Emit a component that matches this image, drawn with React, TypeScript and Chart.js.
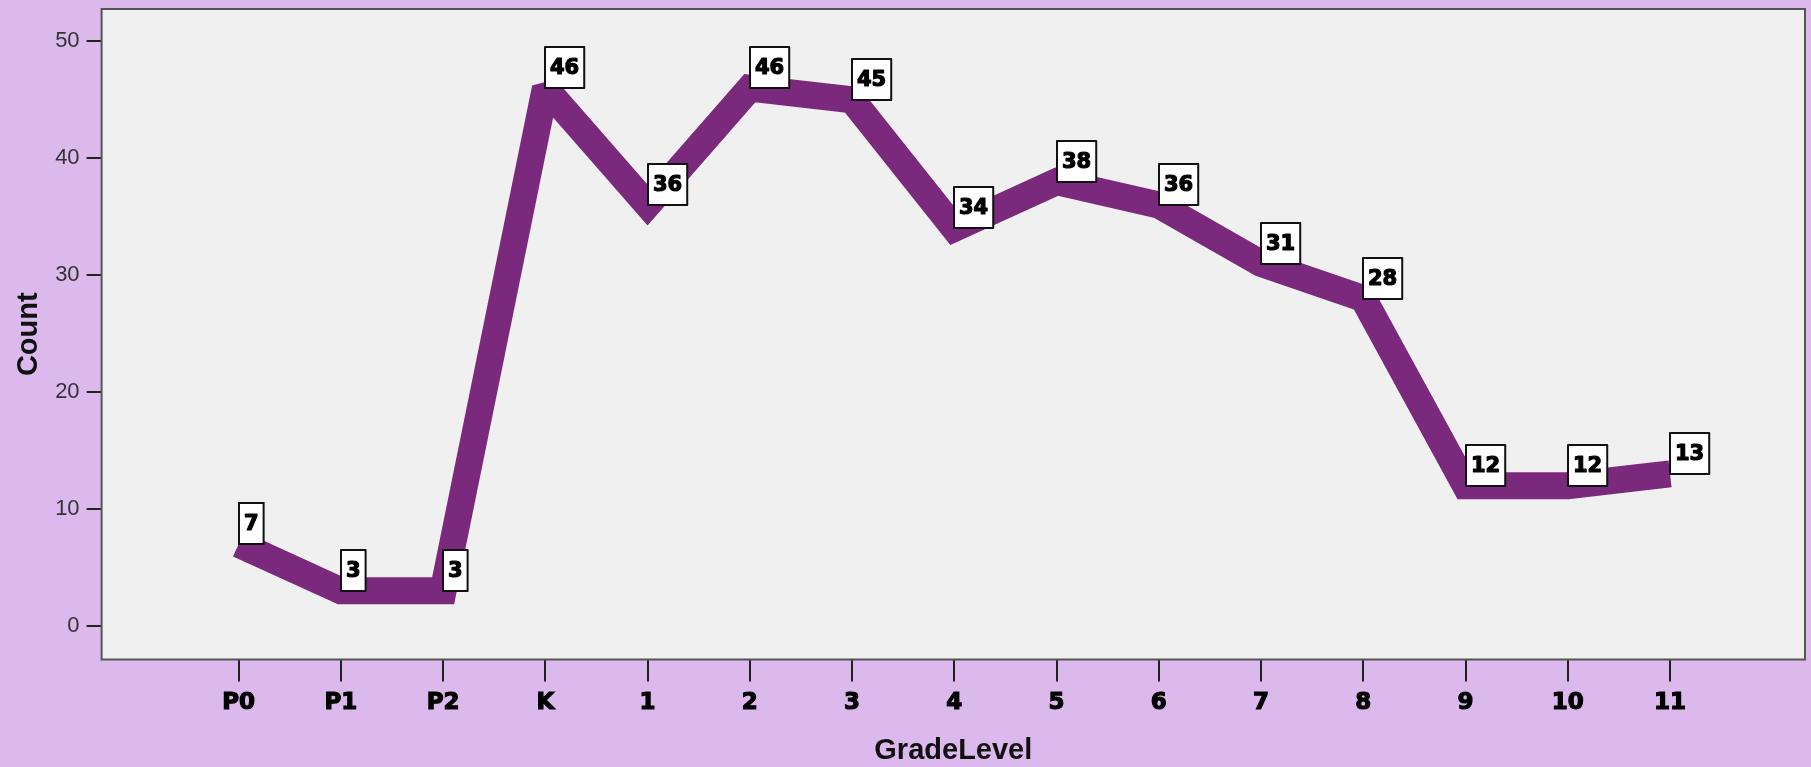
import React, { useEffect, useRef } from 'react';
import { Chart, registerables } from 'chart.js';

Chart.register(...registerables);

const categories: string[] = ['P0', 'P1', 'P2', 'K', '1', '2', '3', '4', '5', '6', '7', '8', '9', '10', '11'];
const counts: number[] = [7, 3, 3, 46, 36, 46, 45, 34, 38, 36, 31, 28, 12, 12, 13];
const yTickValues: number[] = [0, 10, 20, 30, 40, 50];
const xTitle = 'GradeLevel';
const yTitle = 'Count';

const PAGE_BG = '#dcb9ed';
const PLOT_BG = '#f0f0f0';
const LINE_COLOR = '#7b297d';

const backgroundPlugin = {
  id: 'bgFrame',
  beforeDraw(chart: any) {
    const { ctx, chartArea } = chart;
    const { left, top, right, bottom } = chartArea;
    ctx.save();
    ctx.fillStyle = PAGE_BG;
    ctx.fillRect(0, 0, chart.width, chart.height);
    ctx.fillStyle = PLOT_BG;
    ctx.fillRect(left, top, right - left, bottom - top);
    ctx.restore();
  },
  beforeDatasetsDraw(chart: any) {
    const { ctx, chartArea } = chart;
    const { left, top, right, bottom } = chartArea;
    ctx.save();
    ctx.strokeStyle = '#555555';
    ctx.lineWidth = 2;
    ctx.strokeRect(left, top, right - left, bottom - top);
    ctx.restore();
    ctx.miterLimit = 2;
  },
  afterDatasetsDraw(chart: any) {
    const { ctx } = chart;
    ctx.miterLimit = 10;
    const meta = chart.getDatasetMeta(0);
    ctx.save();
    ctx.font = 'bold 21px "DejaVu Sans"';
    ctx.textAlign = 'center';
    ctx.textBaseline = 'middle';
    meta.data.forEach((pt: any, i: number) => {
      const text = String(counts[i]);
      const w = ctx.measureText(text).width + 10;
      const h = 41;
      const x = Math.round(pt.x);
      const y = Math.round(pt.y) - h;
      ctx.fillStyle = '#ffffff';
      ctx.fillRect(x, y, w, h);
      ctx.strokeStyle = '#111111';
      ctx.lineWidth = 2;
      ctx.strokeRect(x, y, w, h);
      ctx.fillStyle = '#000000';
      ctx.strokeStyle = '#000000';
      ctx.lineWidth = 1.2;
      ctx.lineJoin = 'round';
      ctx.strokeText(text, x + w / 2, y + h / 2 + 1);
      ctx.fillText(text, x + w / 2, y + h / 2 + 1);
    });
    ctx.restore();
  },
};

export default function App() {
  const canvasRef = useRef<HTMLCanvasElement | null>(null);

  useEffect(() => {
    document.body.style.margin = '0';
    document.body.style.background = PAGE_BG;
    const canvas = canvasRef.current;
    if (!canvas) return;
    const chart = new Chart(canvas, {
      type: 'line',
      data: {
        datasets: [
          {
            label: yTitle,
            data: categories.map((c, i) => ({ x: i, y: counts[i] })),
            borderColor: LINE_COLOR,
            backgroundColor: LINE_COLOR,
            borderWidth: 27,
            borderCapStyle: 'butt',
            borderJoinStyle: 'miter',
            pointRadius: 0,
            pointHoverRadius: 0,
            tension: 0,
            fill: false,
          },
        ],
      },
      options: {
        responsive: false,
        animation: false,
        devicePixelRatio: 1,
        layout: { padding: { top: 9, right: 6, left: 0, bottom: 0 } },
        plugins: {
          legend: { display: false },
          tooltip: { enabled: false },
        },
        scales: {
          x: {
            type: 'linear',
            position: 'bottom',
            min: -1.34,
            max: 15.32,
            afterFit: (s: any) => {
              s.height = 107.5;
              s.paddingLeft = 0;
              s.paddingRight = 0;
              s.paddingTop = 0;
              s.paddingBottom = 0;
            },
            afterBuildTicks: (s: any) => {
              s.ticks = categories.map((c, i) => ({ value: i }));
            },
            grid: {
              drawOnChartArea: false,
              drawTicks: true,
              tickLength: 22,
              color: '#222222',
              lineWidth: 2,
            },
            border: { display: false },
            ticks: {
              autoSkip: false,
              maxRotation: 0,
              padding: 8,
              color: '#000000',
              textStrokeColor: '#000000',
              textStrokeWidth: 1.2,
              font: { family: '"DejaVu Sans"', size: 23, weight: 'bold', lineHeight: 1.2 },
              callback: (v: any) => categories[Math.round(Number(v))] ?? '',
            },
            title: {
              display: true,
              text: xTitle,
              color: '#111111',
              padding: { top: 0, bottom: 0 },
              font: { family: '"Liberation Sans"', size: 29, weight: 'bold', lineHeight: 1.1 },
            },
          },
          y: {
            type: 'linear',
            position: 'left',
            min: -2.87,
            max: 52.77,
            afterFit: (s: any) => {
              s.width = 101.6;
              s.paddingLeft = 0;
              s.paddingRight = 0;
              s.paddingTop = 0;
              s.paddingBottom = 0;
            },
            afterBuildTicks: (s: any) => {
              s.ticks = yTickValues.map((v) => ({ value: v }));
            },
            grid: {
              drawOnChartArea: false,
              drawTicks: true,
              tickLength: 15,
              color: '#222222',
              lineWidth: 2,
            },
            border: { display: false },
            ticks: {
              padding: 7,
              color: '#333333',
              font: { family: '"Liberation Sans"', size: 22, weight: 'normal' },
            },
            title: {
              display: true,
              text: yTitle,
              color: '#111111',
              padding: { top: 13, bottom: 0 },
              font: { family: '"Liberation Sans"', size: 29, weight: 'bold', lineHeight: 1.1 },
            },
          },
        },
      },
      plugins: [backgroundPlugin],
    } as any);
    return () => {
      chart.destroy();
    };
  }, []);

  return (
    <div style={{ width: 1811, height: 767, background: PAGE_BG }}>
      <canvas ref={canvasRef} width={1811} height={767} style={{ display: 'block', width: 1811, height: 767 }} />
    </div>
  );
}
